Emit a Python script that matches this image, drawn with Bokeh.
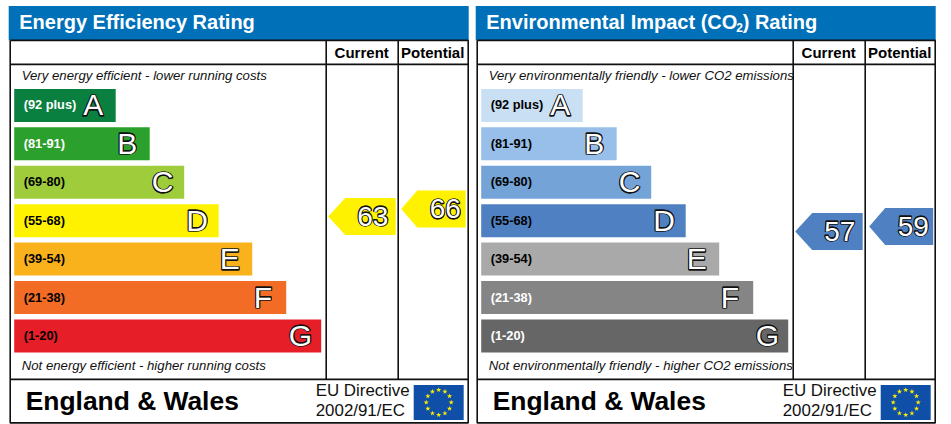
import math
from bokeh.plotting import figure
from bokeh.models import Range1d
from bokeh.core.properties import value
from bokeh.embed import file_html
from bokeh.resources import INLINE

# ---- data ----
bands = ["A", "B", "C", "D", "E", "F", "G"]
band_labels = ["(92 plus)", "(81-91)", "(69-80)", "(55-68)", "(39-54)", "(21-38)", "(1-20)"]
bar_lengths = [101.5, 135.5, 170, 204.5, 238, 272, 307]
energy_colors = ["#0a8040", "#2ca02c", "#9fcc3b", "#fff200", "#f9b11c", "#f26c25", "#e61e28"]
env_colors = ["#c8dff4", "#97bfea", "#74a3d8", "#4f81c2", "#a9a9a9", "#858585", "#666666"]
energy_label_colors = ["white", "white", "black", "black", "black", "black", "black"]
env_label_colors = ["black", "black", "black", "black", "black", "white", "white"]
titles = ["Energy Efficiency Rating", "Environmental Impact (CO"]
top_notes = ["Very energy efficient - lower running costs", "Very environmentally friendly - lower CO2 emissions"]
bottom_notes = ["Not energy efficient - higher running costs", "Not environmentally friendly - higher CO2 emissions"]
energy_current, energy_potential = 63, 66
env_current, env_potential = 57, 59
column_heads = ["Current", "Potential"]
region = "England & Wales"
directive = ["EU Directive", "2002/91/EC"]

W, H = 951, 424
SX, SY = 0.8, 0.6
FONT = value("Liberation Sans")
p = figure(width=W, height=H, x_range=Range1d(SX, W + SX), y_range=Range1d(H + SY, SY),
           output_backend="svg", toolbar_location=None, min_border=0,
           background_fill_color="white", border_fill_color="white", outline_line_color=None)
p.xaxis.visible = False
p.yaxis.visible = False
p.xgrid.visible = False
p.ygrid.visible = False
# rating scale for the arrows' vertical position (2.5px per point)
p.extra_y_ranges = {"rating": Range1d((374 - (H + SY)) / 2.5, (374 - SY) / 2.5)}
HALO = [(-0.45, -0.45), (0.45, -0.45), (-0.45, 0.45), (0.45, 0.45)]


def txt(x, y, s, size, color="black", style="normal", align="left", **kw):
    # y is the alphabetic baseline; "middle" sits about 0.35em above it
    return p.text([x], [y - 0.35 * size], text=[s], text_font=FONT, text_font_size=value(f"{size}px"),
                  text_color=color, text_font_style=style, text_align=align, text_baseline="middle", **kw)


def outlined(x, y, s, size):
    for ox, oy in HALO:
        txt(x, y, s, size, "#111111", "normal", "left", text_outline_color="#111111", x_offset=ox, y_offset=oy)
    txt(x, y, s, size, "white", "normal", "left")


def arrow(xl, v, color, half=18.5, xr_off=67.5, tip=17, num_off=23):
    h = half / 2.5
    xs = [xl, xl + tip, xl + xr_off, xl + xr_off, xl + tip]
    ys = [v, v + h, v + h, v - h, v - h]
    p.patch(xs, ys, color=color, y_range_name="rating", line_width=0)
    common = dict(y_range_name="rating", text_font=FONT, text_font_size=value("28px"),
                  text_align="center", text_baseline="middle")
    for ox, oy in HALO:
        p.text([xl + xr_off - num_off], [v], text=[str(v)], text_color="#111111", text_outline_color="#111111",
               x_offset=ox, y_offset=oy, **common)
    p.text([xl + xr_off - num_off], [v], text=[str(v)], text_color="white", **common)


def panel(dx, colors, label_colors, title, top, bottom, cur, pot):
    # header
    p.quad(left=[9 + dx], right=[469 + dx], top=[6], bottom=[40.5], color="#0070b8", line_width=0)
    txt(19.5 + dx, 29, title, 20, "white", "bold")
    # frame
    L, R = 10.5 + dx, 468.5 + dx
    p.multi_line([[L, R, R, L, L], [L, R], [L, R], [326.5 + dx] * 2, [398.5 + dx] * 2],
                 [[40.5, 40.5, 423, 423, 40.5], [64.5, 64.5], [379.5, 379.5], [40.5, 379.5], [40.5, 379.5]],
                 line_color="#111111", line_width=1.6)
    txt(362 + dx, 57.5, column_heads[0], 15, "black", "bold", "center")
    txt(433 + dx, 57.5, column_heads[1], 15, "black", "bold", "center")
    txt(22 + dx, 80, top, 13.2, "#111111", "italic")
    txt(22 + dx, 370, bottom, 13.2, "#111111", "italic")
    # bars
    tops = [89 + 38.42 * i for i in range(len(bands))]
    for i, b in enumerate(bands):
        p.quad(left=[14.5 + dx], right=[14.5 + dx + bar_lengths[i]], top=[tops[i]], bottom=[tops[i] + 33],
               color=colors[i], line_width=0)
        txt(24 + dx, tops[i] + 20.5, band_labels[i], 12.8, label_colors[i], "bold")
        outlined(14.5 + dx + bar_lengths[i] - 32.5, tops[i] + 26.5, b, 30)
    arrow(328.5 + dx, cur, colors[3])
    if dx:
        arrow(402.5 + dx, pot, colors[3], xr_off=64, tip=16, num_off=20)
    else:
        arrow(401.5 + dx, pot, colors[3], xr_off=64.5, tip=16, num_off=20.5)
    # footer
    txt(26 + dx, 410, region, 26.4, "black", "bold")
    txt(316 + dx, 396.5, directive[0], 16.9, "#111111")
    txt(316 + dx, 417, directive[1], 16.9, "#111111")
    # flag
    p.quad(left=[414 + dx], right=[464 + dx], top=[385], bottom=[420], color="#0f4fa8", line_width=0)
    xs = [439 + dx + 12.5 * math.sin(math.radians(30 * k)) for k in range(12)]
    ys = [402.5 - 12.5 * math.cos(math.radians(30 * k)) for k in range(12)]
    p.scatter(xs, ys, marker="star", size=5.5, color="#ffed00", line_width=0)


panel(0, energy_colors, energy_label_colors, titles[0], top_notes[0], bottom_notes[0], energy_current, energy_potential)
panel(467, env_colors, env_label_colors, titles[1], top_notes[1], bottom_notes[1], env_current, env_potential)
# subscript and closing of the second title
txt(736.5, 32, "2", 12, "white", "bold")
txt(743, 29, ") Rating", 20, "white", "bold")

open("out.html", "w").write(file_html(p, INLINE))
